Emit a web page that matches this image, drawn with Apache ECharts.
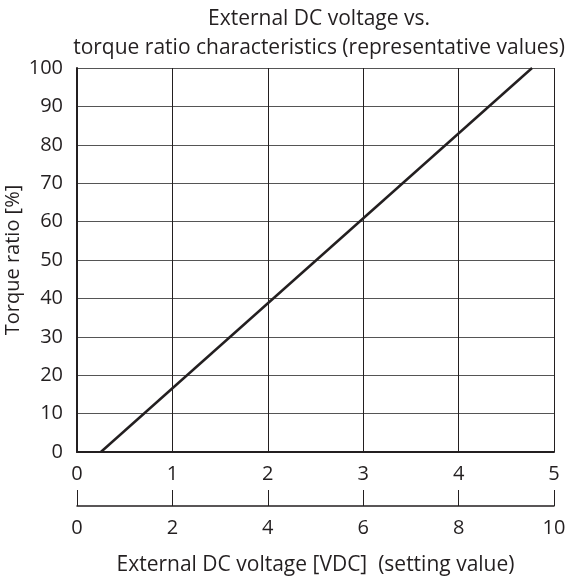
<!DOCTYPE html>
<html>
<head>
<meta charset="utf-8">
<script src="https://cdn.jsdelivr.net/npm/echarts@6/dist/echarts.min.js"></script>
<style>
  html, body { margin: 0; padding: 0; background: #fff; }
  #chart { width: 565px; height: 576px; }
</style>
</head>
<body>
<div id="chart"></div>
<script>
// data
const voltagePoints = [0.25, 4.77]   // external DC voltage [V], 0-5 scale
const torquePoints = [0, 100]        // torque ratio [%]
const voltageTicks5 = [0, 1, 2, 3, 4, 5]
const settingTicks10 = [0, 2, 4, 6, 8, 10]

const ink = '#231f20'
const font = 'Open Sans'
const fs = 20

let chart = echarts.init(document.getElementById('chart'))
let option = {
  animation: false,
  textStyle: { fontFamily: font, color: ink },
  title: {
    text: 'External DC voltage vs.\ntorque ratio characteristics (representative values)',
    left: 314,
    top: 0,
    textAlign: 'center',
    textStyle: {
      fontFamily: font,
      fontSize: 21,
      fontWeight: 'normal',
      color: ink,
      lineHeight: 29,
    },
  },
  grid: { left: 77, right: 11, top: 68, bottom: 124, outerBoundsMode: 'none', containLabel: false },
  xAxis: [
    {
      type: 'value',
      min: voltageTicks5[0],
      max: voltageTicks5[voltageTicks5.length - 1],
      interval: 1,
      axisLine: { show: true, lineStyle: { color: ink, width: 2 } },
      axisTick: { show: false },
      axisLabel: { fontSize: fs, color: ink, margin: 12, fontFamily: font },
      splitLine: { show: true, lineStyle: { color: ink, width: 1 } },
    },
    {
      type: 'value',
      position: 'bottom',
      offset: 54,
      min: settingTicks10[0],
      max: settingTicks10[settingTicks10.length - 1],
      interval: 2,
      axisLine: { show: true, lineStyle: { color: ink, width: 1.5 } },
      axisTick: { show: true, inside: true, length: 16, lineStyle: { color: ink, width: 1 } },
      axisLabel: { fontSize: fs, color: ink, margin: 12, fontFamily: font },
      splitLine: { show: false },
      name: 'External DC voltage [VDC]  (setting value)',
      nameLocation: 'middle',
      nameGap: 49,
      nameMoveOverlap: false,
      nameTextStyle: { fontSize: 21, color: ink, fontFamily: font },
    },
  ],
  yAxis: {
    type: 'value',
    min: 0,
    max: 100,
    interval: 10,
    axisLine: { show: true, lineStyle: { color: ink, width: 2 } },
    axisTick: { show: false },
    axisLabel: { fontSize: fs, color: ink, margin: 14, fontFamily: font },
    splitLine: { show: true, lineStyle: { color: '#555', width: 1 } },
    name: 'Torque ratio [%]',
    nameLocation: 'middle',
    nameGap: 54,
    nameMoveOverlap: false,
    nameTextStyle: { fontSize: fs, color: ink, fontFamily: font },
  },
  series: [
    {
      type: 'line',
      xAxisIndex: 0,
      symbol: 'none',
      lineStyle: { color: ink, width: 2.5 },
      data: voltagePoints.map((v, i) => [v, torquePoints[i]]),
    },
  ],
}
chart.setOption(option)
</script>
</body>
</html>
